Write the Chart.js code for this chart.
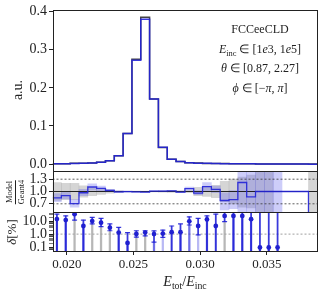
<!DOCTYPE html>
<html>
<head>
<meta charset="utf-8">
<script src="https://cdn.jsdelivr.net/npm/chart.js"></script>
<style>
	html, body { margin: 0; padding: 0; background: #fff; }
	#wrap { position: relative; width: 324px; height: 292px; font-family: "Liberation Serif", serif; color: #222; }
	#wrap canvas { position: absolute; left: 0; top: 0; }
	.lbl { position: absolute; white-space: nowrap; line-height: 1; }
	.mid { transform: translate(-50%, -50%); }
	.rot { transform: translate(-50%, -50%) rotate(-90deg); }
	sub { font-size: 70%; vertical-align: -0.3em; line-height: 0; }
	#info { left: 195px; width: 130px; top: 20px; text-align: center; font-size: 12px; line-height: 19.5px; }
	.frac { display: inline-flex; flex-direction: column; align-items: center; font-size: 8.5px; }
	.frac .num { border-bottom: 0.8px solid #222; padding: 0 1px 1px; }
	.frac .den { padding-top: 1px; }
</style>
</head>
<body>
<div id="wrap">
	<canvas id="c" width="324" height="292"></canvas>
	<div class="lbl" id="info">
		FCCeeCLD<br>
		<i>E</i><sub>inc</sub> ∈ [1<i>e</i>3, 1<i>e</i>5]<br>
		<i>θ</i> ∈ [0.87, 2.27]<br>
		<i>ϕ</i> ∈ [−<i>π</i>, <i>π</i>]
	</div>
	<div class="lbl rot" style="left:18px; top:90px; font-size:14px;">a.u.</div>
	<div class="lbl rot" style="left:11.5px; top:191.5px;"><span class="frac"><span class="num">Model</span><span class="den">Geant4</span></span></div>
	<div class="lbl rot" style="left:11px; top:231.5px; font-size:13px;"><i>δ</i>[%]</div>
	<div class="lbl mid" style="left:185px; top:282px; font-size:14px;"><i>E</i><sub>tot</sub>/<i>E</i><sub>inc</sub></div>
</div>
<script>
// 30 equal bins in E_tot/E_inc
const xLo = 0.01893, binW = 0.000662, nBins = 30;
const xTicks = [0.020, 0.025, 0.030, 0.035];
const mainTicks = [0.0, 0.1, 0.2, 0.3, 0.4];
const ratioTicks = [0.7, 1.0, 1.3];
const ratioRefs = [0.7, 1.3];
const deltaTicks = [0.1, 1, 10];
const deltaMinor = [0.06, 0.07, 0.08, 0.09, 0.2, 0.3, 0.4, 0.5, 0.6, 0.7, 0.8, 0.9, 2, 3, 4, 5, 6, 7, 8, 9, 20, 30, 40];

// normalised histograms
const geant4 = [0.0012, 0.0013, 0.0026, 0.0026, 0.0028, 0.0047, 0.0088, 0.0222, 0.0802, 0.2750,
	0.3848, 0.1710, 0.0436, 0.0128, 0.0071, 0.0033, 0.0027, 0.0018, 0.0015, 0.0015,
	0.0013, 0.0007, 0.0008, 0.0006, 0.0005, 0.0005, 0.0004, 0.0004, 0.0003, 0.0003];
const model = [0.0010, 0.0012, 0.0018, 0.0025, 0.0031, 0.0050, 0.0090, 0.0220, 0.0800, 0.2720,
	0.3796, 0.1710, 0.0440, 0.0130, 0.0070, 0.0035, 0.0026, 0.0020, 0.0016, 0.0012,
	0.0010, 0.0008, 0.0007, 0.0006, 0.0005, 0.0005, 0.0004, 0.0004, 0.0003, 0.0000];

// Model / Geant4 ratio and its uncertainty bands
const ratio = [0.845, 0.90, 0.705, 0.97, 1.11, 1.075, 1.025, 0.99, 0.998, 0.99,
	0.987, 1.01, 1.01, 1.014, 0.986, 1.07, 0.96, 1.12, 1.05, 0.78,
	0.80, 1.22, 0.87, 1.0, 1.0, 1.0, 1.0, 1.0, 1.0, 0.0];
const g4BandLo = [0.78, 0.80, 0.80, 0.86, 0.90, 0.93, 0.96, 0.98, 0.99, 0.99,
	0.99, 0.99, 0.985, 0.98, 0.98, 0.97, 0.90, 0.88, 0.85, 0.75,
	0.70, 0.62, 0.60, 0.50, 0.50, null, null, null, null, 0.50];
const g4BandHi = [1.22, 1.20, 1.20, 1.14, 1.10, 1.07, 1.04, 1.02, 1.01, 1.01,
	1.01, 1.01, 1.015, 1.02, 1.02, 1.03, 1.10, 1.12, 1.15, 1.25,
	1.30, 1.35, 1.40, 1.50, 1.50, null, null, null, null, 1.50];
const modelBandLo = [0.75, 0.82, 0.62, 0.90, 1.03, 1.02, 1.00, 0.97, 0.99, 0.98,
	0.98, 1.00, 1.00, 1.00, 0.97, 1.03, 0.92, 1.02, 0.97, 0.55,
	0.58, 0.50, 0.50, 0.50, 0.50, 0.50, null, null, null, null];
const modelBandHi = [0.95, 0.98, 0.80, 1.05, 1.19, 1.13, 1.05, 1.01, 1.01, 1.00,
	1.00, 1.02, 1.02, 1.03, 1.00, 1.11, 1.02, 1.22, 1.13, 0.97,
	1.02, 1.50, 1.50, 1.50, 1.50, 1.50, null, null, null, null];

// relative difference in %, with error bars (null low end = runs off the axis)
const delta = [14.3, 12, 34, 4.2, 10, 7.5, 3.1, 1.3, 0.21, 1.03,
	1.3, 1.0, 1.1, 1.4, 1.4, 9.6, 4.2, 13.5, 4.2, 25,
	25, 25, 14, 0.095, 0.095, 0.095, null, null, null, null];
const deltaErrLo = [null, null, 11.7, null, 6, 3.7, 1.8, null, null, 0.58,
	0.73, 0.24, 0.55, null, null, 5, 0.87, null, null, 9,
	null, null, null, null, null, null, null, null, null, null];
const deltaErrHi = [34, 25, 60, 12, 19, 16, 6, 3.3, 1.3, 1.8,
	1.8, 1.75, 2.0, 4.2, 6, 21, 16, 25, 34, 60,
	60, 60, 60, 60, 60, 60, null, null, null, null];
const stemKind = ['m', 'm', 'g', 'm', 'g', 'g', 'g', 'm', 'm', 'g',
	'g', 'm', 'l', 'l', 'm', 'm', 'l', 'm', 'l', 'g',
	'm', 'm', 'm', 'm', 'm', 'm', null, null, null, null];

const xHi = xLo + nBins * binW;
const dMin = 0.05, dMax = 50;
const BLUE = 'rgba(35, 35, 215, 0.9)';
const stemColor = { m: 'rgba(50, 50, 220, 0.7)', g: 'rgba(165, 165, 165, 0.8)', l: 'rgba(100, 100, 230, 0.45)' };
const FONT = "'Liberation Serif', serif";

const edges = Array.from({ length: nBins + 1 }, (_, i) => xLo + i * binW);
const centers = edges.slice(0, nBins).map(x => x + binW / 2);
const step = vals => edges.map((x, i) => ({ x, y: vals[Math.min(i, nBins - 1)] }));
const bars = (lo, hi) => centers.map((x, i) => ({ x, y: lo[i] == null ? null : [lo[i], hi[i]] }));
const hline = v => [{ x: xLo, y: v }, { x: xHi, y: v }];

const errBars = centers.map((x, i) => ({ x, y: delta[i] == null ? null : [deltaErrLo[i] ?? dMin, deltaErrHi[i]] }));
const stems = centers.map((x, i) => ({ x, y: delta[i] == null ? null : [dMin, deltaErrLo[i] ?? delta[i]] }));
const caps = [];
centers.forEach((x, i) => {
	if (delta[i] == null) return;
	if (deltaErrLo[i] != null) caps.push({ x, y: deltaErrLo[i] });
	caps.push({ x, y: deltaErrHi[i] });
});
const points = centers.map((x, i) => ({ x, y: delta[i] })).filter(p => p.y != null);

// keep each dataset inside its own panel
const panelClip = {
	id: 'panelClip',
	beforeDatasetDraw(chart, args) {
		const s = chart.scales[args.meta.yAxisID], a = chart.chartArea, ctx = chart.ctx;
		ctx.save();
		ctx.beginPath();
		ctx.rect(a.left, s.top, a.right - a.left, s.bottom - s.top);
		ctx.clip();
	},
	afterDatasetDraw(chart) { chart.ctx.restore(); }
};

// panel frames
const frames = {
	id: 'frames',
	afterDraw(chart) {
		const { ctx, chartArea: a } = chart;
		ctx.save();
		ctx.strokeStyle = '#222';
		ctx.lineWidth = 1;
		['yMain', 'yRatio', 'yDelta'].forEach(id => {
			const s = chart.scales[id];
			const l = Math.round(a.left) + 0.5, t = Math.round(s.top) + 0.5;
			ctx.strokeRect(l, t, Math.round(a.right) - Math.round(a.left), Math.round(s.bottom) - Math.round(s.top));
		});
		ctx.restore();
	}
};

const yAxis = (stackWeight, weight, min, max, ticks, fmt) => ({
	type: 'linear', position: 'left', stack: 'p', stackWeight, weight, min, max,
	afterBuildTicks: s => { s.ticks = ticks.map(v => ({ value: v })); },
	afterFit: s => { s.width = 52.5; s.paddingTop = 0; s.paddingBottom = 0; },
	ticks: { callback: fmt, font: { family: FONT, size: 14 }, color: '#222', padding: 2, autoSkip: false },
	grid: { drawOnChartArea: false, tickLength: 3.5, color: '#222' },
	border: { display: false }
});

const yDelta = yAxis(39, 1, dMin, dMax, deltaTicks.concat(deltaMinor),
	v => deltaTicks.includes(v) ? v.toFixed(1) : '');
yDelta.type = 'logarithmic';
yDelta.grid.tickWidth = c => deltaTicks.includes(c.tick.value) ? 1 : 0.6;

new Chart(document.getElementById('c'), {
	data: {
		datasets: [
			// main panel
			{ type: 'line', yAxisID: 'yMain', data: step(model), stepped: true, borderColor: BLUE, borderWidth: 1.5, pointRadius: 0, order: 1 },
			{ type: 'line', yAxisID: 'yMain', data: step(geant4), stepped: true, borderColor: '#444', borderWidth: 1.5, pointRadius: 0, order: 2 },
			// ratio panel
			{ type: 'line', yAxisID: 'yRatio', data: step(ratio), stepped: true, borderColor: BLUE, borderWidth: 1.3, pointRadius: 0, order: 3 },
			{ type: 'line', yAxisID: 'yRatio', data: hline(1.0), borderColor: '#222', borderWidth: 1, pointRadius: 0, order: 4 },
			...ratioRefs.map(v => ({ type: 'line', yAxisID: 'yRatio', data: hline(v), borderColor: '#333', borderWidth: 0.8, borderDash: [2, 2], pointRadius: 0, order: 5 })),
			{ type: 'bar', yAxisID: 'yRatio', data: bars(modelBandLo, modelBandHi), backgroundColor: 'rgba(90, 90, 235, 0.3)', grouped: false, barPercentage: 1, categoryPercentage: 1, order: 6 },
			{ type: 'bar', yAxisID: 'yRatio', data: bars(g4BandLo, g4BandHi), backgroundColor: 'rgba(150, 150, 150, 0.4)', grouped: false, barPercentage: 1, categoryPercentage: 1, order: 7 },
			// delta panel
			{ type: 'scatter', yAxisID: 'yDelta', data: points, pointRadius: 2.4, backgroundColor: '#2020d0', borderWidth: 0, order: 8 },
			{ type: 'scatter', yAxisID: 'yDelta', data: caps, pointStyle: 'line', pointRadius: 2.5, borderColor: BLUE, borderWidth: 1.2, order: 9 },
			{ type: 'bar', yAxisID: 'yDelta', data: errBars, backgroundColor: BLUE, barThickness: 1.1, grouped: false, order: 10 },
			{ type: 'bar', yAxisID: 'yDelta', data: stems, backgroundColor: c => stemColor[stemKind[c.dataIndex]] || 'transparent', barThickness: 1.6, grouped: false, order: 11 },
			{ type: 'line', yAxisID: 'yDelta', data: hline(1), borderColor: '#888', borderWidth: 0.8, borderDash: [2, 2], pointRadius: 0, order: 12 }
		]
	},
	options: {
		responsive: false,
		animation: false,
		events: [],
		layout: { padding: { left: 0, top: 10, right: 6.7, bottom: 0 } },
		plugins: { legend: { display: false }, tooltip: { enabled: false } },
		scales: {
			x: {
				type: 'linear', position: 'bottom', min: xLo, max: xHi, offset: false,
				afterBuildTicks: s => { s.ticks = xTicks.map(v => ({ value: v })); },
				afterFit: s => { s.height = 41; s.paddingLeft = 0; s.paddingRight = 0; },
				ticks: { callback: v => v.toFixed(3), font: { family: FONT, size: 13 }, color: '#222', padding: 2, maxRotation: 0, autoSkip: false },
				grid: { drawOnChartArea: false, offset: false, tickLength: 4, color: '#222' },
				border: { display: false }
			},
			yMain: yAxis(161, 3, -0.018, 0.404, mainTicks, v => v.toFixed(1)),
			yRatio: yAxis(41, 2, 0.5, 1.5, ratioTicks, v => v.toFixed(1)),
			yDelta: yDelta
		}
	},
	plugins: [panelClip, frames]
});
</script>
</body>
</html>
